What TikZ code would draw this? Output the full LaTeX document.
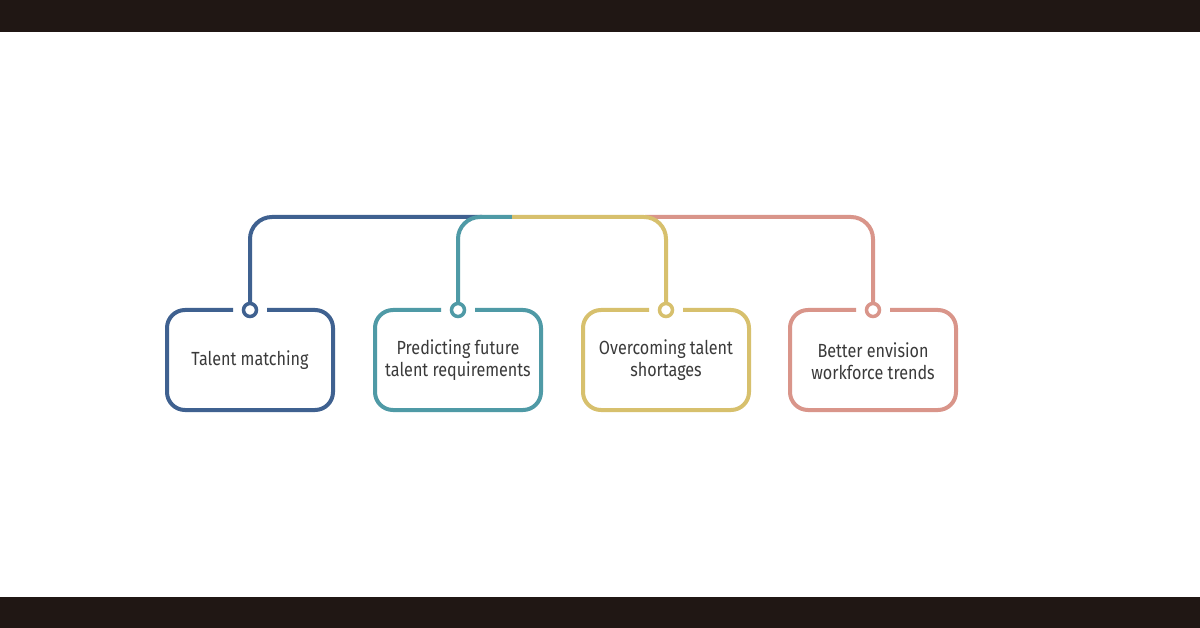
\documentclass[tikz,border=0pt]{standalone}
\usepackage{fontspec}
\setmainfont{Fira Sans}[FakeStretch=0.85]
\definecolor{band}{HTML}{201714}
\definecolor{cblue}{HTML}{3F6190}
\definecolor{cteal}{HTML}{4F9AA6}
\definecolor{cyel}{HTML}{D7C06D}
\definecolor{cpink}{HTML}{D9958A}
\definecolor{txt}{HTML}{3A3A3A}
\tikzset{
  card/.style={line width=4pt, rounded corners=18pt},
  link/.style={line width=4pt, rounded corners=22pt},
  dot/.style={circle, line width=3.5pt, fill=white, minimum size=13pt, inner sep=0pt},
  lbl/.style={text=txt, align=center, font=\fontsize{19}{22}\selectfont}
}
\begin{document}
\begin{tikzpicture}[x=1pt,y=-1pt]
\useasboundingbox (0,0) rectangle (1200,628);
\fill[white] (0,0) rectangle (1200,628);
\fill[band] (0,0) rectangle (1200,32);
\fill[band] (0,597) rectangle (1200,628);
% cards (drawn with gap at top)
\foreach \cx/\col/\nm in {250/cblue/a,458/cteal/b,666/cyel/c,873/cpink/d}{
  \draw[card,\col] (\cx+17,310) -- (\cx+83,310) -- (\cx+83,410) -- (\cx-83,410) -- (\cx-83,310) -- (\cx-17,310);
  \coordinate (top\nm) at (\cx,310);
}
\node[lbl] (ta) at (250,360) {Talent matching};
\node[lbl] (tb) at (458,360) {Predicting future\\talent requirements};
\node[lbl] (tc) at (666,360) {Overcoming talent\\shortages};
\node[lbl] (td) at (873,361) {Better envision\\workforce trends};
% links
\coordinate (ea) at (482,217);
\coordinate (eb) at (512,217);
\coordinate (ec) at (512,217);
\coordinate (ed) at (645,217);
\draw[link,cblue] (topa) -- (250,217) -- (ea);
\draw[link,cpink] (topd) -- (873,217) -- (ed);
\draw[link,cteal] (topb) -- (458,217) -- (eb);
\draw[link,cyel] (topc) -- (666,217) -- (ec);
% dots
\node[dot,draw=cblue] (da) at (topa) {};
\node[dot,draw=cteal] (db) at (topb) {};
\node[dot,draw=cyel] (dc) at (topc) {};
\node[dot,draw=cpink] (dd) at (topd) {};
\end{tikzpicture}
\end{document}
